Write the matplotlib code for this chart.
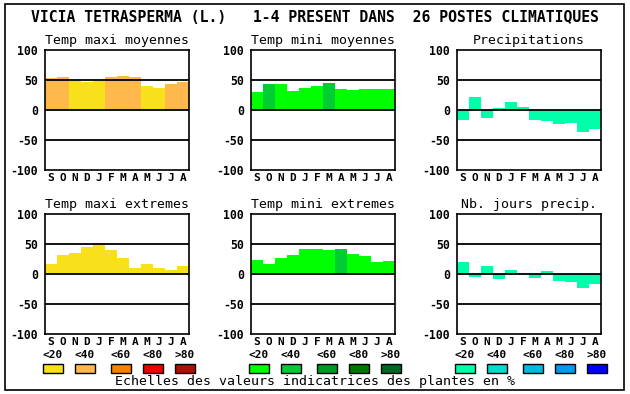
import numpy as np
import matplotlib
matplotlib.use("Agg")
import matplotlib.pyplot as plt
from matplotlib.patches import Rectangle

# data
months = ["S", "O", "N", "D", "J", "F", "M", "A", "M", "J", "J", "A"]
yticks = [-100, -50, 0, 50, 100]
class_labels = ["<20", "<40", "<60", "<80", ">80"]

titles = ["Temp maxi moyennes", "Temp mini moyennes", "Precipitations",
          "Temp maxi extremes", "Temp mini extremes", "Nb. jours precip."]

tmax_moy = [53, 55, 49, 47, 49, 55, 57, 55, 40, 37, 44, 47]
tmax_moy_cls = [1, 1, 0, 0, 0, 1, 1, 1, 0, 0, 1, 1]
tmin_moy = [30, 43, 43, 32, 37, 40, 45, 35, 33, 35, 35, 35]
tmin_moy_cls = [0, 1, 0, 0, 0, 0, 1, 0, 0, 0, 0, 0]
precip = [-16, 22, -13, 3, 13, 5, -16, -18, -23, -22, -36, -31]
precip_cls = [0] * 12
tmax_ext = [17, 32, 35, 45, 52, 40, 27, 10, 17, 10, 7, 13]
tmax_ext_cls = [0] * 12
tmin_ext = [23, 17, 27, 32, 42, 42, 40, 42, 33, 30, 20, 22]
tmin_ext_cls = [0, 0, 0, 0, 0, 0, 0, 1, 0, 0, 0, 0]
jours_precip = [20, -5, 13, -8, 7, 2, -7, 5, -12, -13, -23, -17]
jours_precip_cls = [0] * 12

warm_colors = ["#f8e01a", "#ffb84c", "#ff7f00", "#ee0000", "#aa1100"]
green_colors = ["#00ff00", "#00cc33", "#009922", "#007700", "#006622"]
cyan_colors = ["#00ffaa", "#00ddcc", "#00bbdd", "#0099ee", "#0000ff"]

W, H = 630, 394
fig = plt.figure(figsize=(W / 100, H / 100), dpi=100)
mono = "DejaVu Sans Mono"


def px_axes(x0, y0, x1, y1):
    return fig.add_axes([x0 / W, 1 - y1 / H, (x1 - x0) / W, (y1 - y0) / H])


panels = [
    (tmax_moy, tmax_moy_cls, warm_colors),
    (tmin_moy, tmin_moy_cls, green_colors),
    (precip, precip_cls, cyan_colors),
    (tmax_ext, tmax_ext_cls, warm_colors),
    (tmin_ext, tmin_ext_cls, green_colors),
    (jours_precip, jours_precip_cls, cyan_colors),
]
cols = [(45, 189), (251, 395), (457, 601)]
rows = [(50, 170), (214, 334)]

for i, (vals, cls, pal) in enumerate(panels):
    r, c = divmod(i, 3)
    x0, x1 = cols[c]
    y0, y1 = rows[r]
    ax = px_axes(x0, y0, x1, y1)
    x = np.arange(len(months))
    ax.bar(x, vals, width=1.0, color=[pal[k] for k in cls], linewidth=0, zorder=1)
    for h in [50, 0, -50]:
        ax.axhline(h, color="black", lw=1.3, zorder=2)
    ax.set_xlim(-0.5, 11.5)
    ax.set_ylim(-100, 100)
    ax.set_yticks(yticks)
    ax.set_yticklabels([str(v) for v in yticks], family=mono, weight="bold", fontsize=8.3)
    ax.set_xticks(x)
    ax.set_xticklabels(months, family=mono, weight="bold", fontsize=8)
    ax.tick_params(axis="x", length=0, pad=2.5)
    ax.tick_params(axis="y", length=0, pad=5)
    for s in ax.spines.values():
        s.set_linewidth(1.2)
    ax.set_title(titles[i], family=mono, fontsize=9.5, pad=4)

    # legend swatches under the bottom row
    if r == 1:
        offs = [4, 36, 72, 104, 136]
        for k, off in enumerate(offs):
            sx = x0 - 6 + off
            fig.text((sx + 10) / W, 1 - 355 / H, class_labels[k], family=mono,
                     weight="bold", fontsize=8, ha="center", va="center")
            fig.patches.append(Rectangle((sx / W, 1 - 373 / H), 20 / W, 9 / H,
                                         transform=fig.transFigure, facecolor=pal[k],
                                         edgecolor="black", lw=1))

fig.text(0.5, 1 - 18 / H, "VICIA TETRASPERMA (L.)   1-4 PRESENT DANS  26 POSTES CLIMATIQUES",
         family=mono, weight="bold", fontsize=10.6, ha="center", va="center")
fig.text(0.5, 1 - 382 / H, "Echelles des valeurs indicatrices des plantes en %",
         family=mono, fontsize=9.5, ha="center", va="center")

fig.patches.append(Rectangle((5 / W, 1 - 390 / H), 619 / W, 386 / H,
                             transform=fig.transFigure, fill=False,
                             edgecolor="black", lw=1.2))

fig.savefig("out.png", dpi=100)
